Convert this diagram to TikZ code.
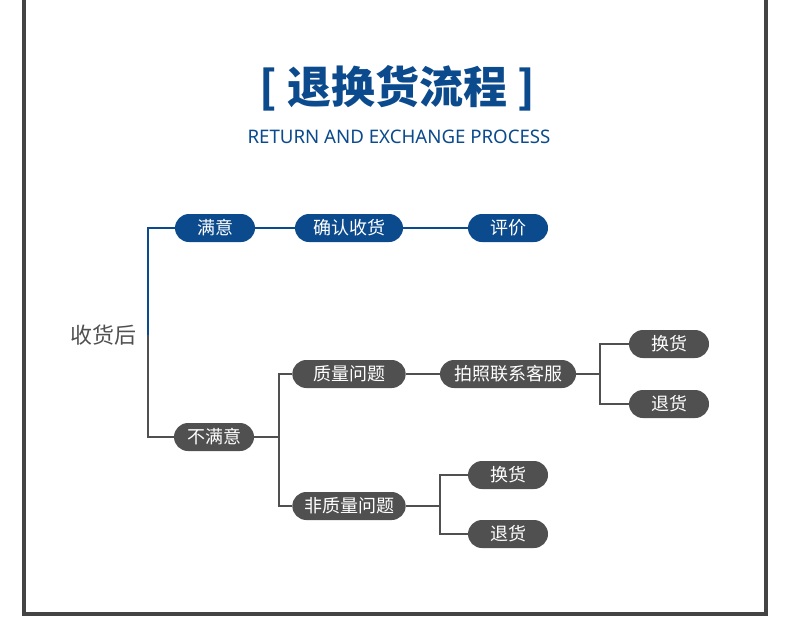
\documentclass[tikz,border=0pt]{standalone}
\usepackage{fontspec}
\setmainfont{Noto Sans}
\newfontfamily\cjk{Noto Sans CJK SC}
\definecolor{bluemain}{HTML}{0B4A8C}
\definecolor{graymain}{HTML}{505050}
\tikzset{
  pill/.style={rounded corners=10.5pt, minimum height=21pt, inner sep=0pt, text=white, font=\cjk\fontsize{13.5}{15}\selectfont},
  bluepill/.style={pill, fill=bluemain},
  graypill/.style={pill, fill=graymain},
  blueline/.style={draw=bluemain, line width=1.4pt},
  grayline/.style={draw=graymain, line width=1.4pt},
}
\begin{document}
\begin{tikzpicture}[x=0.75pt,y=-0.75pt]
    \path[use as bounding box] (0,0) rectangle (790,637);
    % Border.
    \draw[graymain!85!black, line width=2.3pt] (24,0) -- (24,614) -- (766,614) -- (766,0);
    % Title.
    \node[text=bluemain, font=\cjk\bfseries\fontsize{33}{36}\selectfont] (title) at (397,88) {[ 退换货流程 ]};
    \node[text=bluemain, font=\bfseries\fontsize{14}{16}\selectfont] (subtitle) at (399,137) {RETURN AND EXCHANGE PROCESS};
    % Root.
    \node[text=graymain, font=\cjk\fontsize{16.5}{18}\selectfont] (root) at (103,335) {收货后};
    \coordinate (fork) at (148,335);
    % Satisfied branch.
    \node[bluepill, minimum width=60pt] (ok) at (215,228) {满意};
    \node[bluepill, minimum width=81pt] (confirm) at (349,228) {确认收货};
    \node[bluepill, minimum width=60pt] (rate) at (508,228) {评价};
    % Unsatisfied branch.
    \node[graypill, minimum width=60pt] (bad) at (214,437) {不满意};
    \node[graypill, minimum width=85pt] (quality) at (349,374) {质量问题};
    \node[graypill, minimum width=102pt] (photo) at (508,374) {拍照联系客服};
    \node[graypill, minimum width=60pt] (swapA) at (669,344) {换货};
    \node[graypill, minimum width=60pt] (backA) at (669,404) {退货};
    \node[graypill, minimum width=85pt] (other) at (349,506) {非质量问题};
    \node[graypill, minimum width=60pt] (swapB) at (508,475) {换货};
    \node[graypill, minimum width=60pt] (backB) at (508,534) {退货};
    % Connectors.
    \draw[blueline] (fork) |- (ok.west);
    \draw[blueline] (ok) -- (confirm) -- (rate);
    \draw[grayline] (fork) |- (bad.west);
    \draw[grayline] (bad.east) -- ++(25,0) coordinate (split);
    \draw[grayline] (quality.west) -| (split) |- (other.west);
    \draw[grayline] (quality) -- (photo);
    \draw[grayline] (photo.east) -- ++(24,0) coordinate (splitA);
    \draw[grayline] (swapA.west) -| (splitA) |- (backA.west);
    \draw[grayline] (other.east) -- ++(34,0) coordinate (splitB);
    \draw[grayline] (swapB.west) -| (splitB) |- (backB.west);
\end{tikzpicture}
\end{document}
